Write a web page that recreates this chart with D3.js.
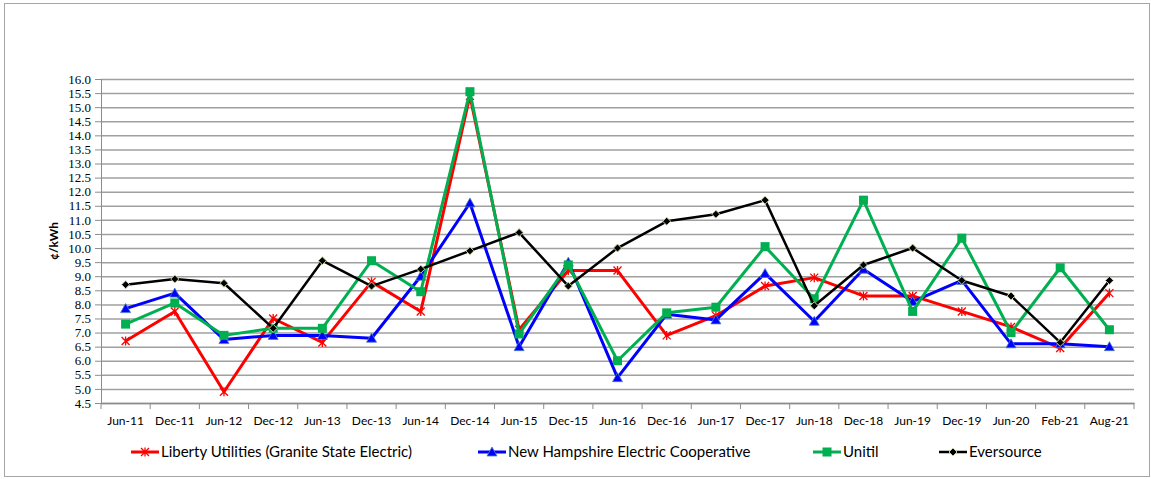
<!DOCTYPE html>
<html>
<head>
<meta charset="utf-8">
<script src="https://cdn.jsdelivr.net/npm/d3@7"></script>
<style>
  body { margin: 0; background: #fff; }
  svg { display: block; }
  .cat text { font-family: Lato, "Open Sans", sans-serif; font-size: 12px; fill: #000; }
  .val text { font-family: "Liberation Serif", "Times New Roman", serif; font-size: 13px; fill: #000; }
  .legend text { font-family: Lato, "Open Sans", sans-serif; font-size: 15px; fill: #000; }
</style>
</head>
<body>
<svg id="chart" width="1151" height="479"></svg>
<script>
// category labels along the bottom
const periods = ['Jun-11', 'Dec-11', 'Jun-12', 'Dec-12', 'Jun-13', 'Dec-13', 'Jun-14', 'Dec-14',
  'Jun-15', 'Dec-15', 'Jun-16', 'Dec-16', 'Jun-17', 'Dec-17', 'Jun-18', 'Dec-18', 'Jun-19',
  'Dec-19', 'Jun-20', 'Feb-21', 'Aug-21']

// cents per kWh
const liberty = [6.7, 7.75, 4.9, 7.5, 6.65, 8.8, 7.75, 15.4, 7.1, 9.2, 9.2, 6.9, 7.6, 8.65,
  8.95, 8.3, 8.3, 7.75, 7.2, 6.45, 8.4]
const nhec = [7.85, 8.4, 6.75, 6.9, 6.9, 6.8, 9.0, 11.6, 6.5, 9.5, 5.4, 7.65, 7.45, 9.1,
  7.4, 9.25, 8.1, 8.85, 6.6, 6.6, 6.5]
const unitil = [7.3, 8.05, 6.9, 7.15, 7.15, 9.55, 8.45, 15.55, 6.95, 9.4, 6.0, 7.7, 7.9, 10.05,
  8.2, 11.7, 7.75, 10.35, 7.0, 9.3, 7.1]
const eversource = [8.7, 8.9, 8.75, 7.15, 9.55, 8.65, 9.25, 9.9, 10.55, 8.65, 10.0, 10.95, 11.2, 11.7,
  7.95, 9.4, 10.0, 8.85, 8.3, 6.65, 8.85]

const yTicks = d3.range(4.5, 16.01, 0.5)

const series = [
  { name: 'Liberty Utilities (Granite State Electric)', values: liberty, color: '#ff0000', marker: 'star', width: 3 },
  { name: 'New Hampshire Electric Cooperative', values: nhec, color: '#0000ff', marker: 'triangle', width: 3 },
  { name: 'Unitil', values: unitil, color: '#00b050', marker: 'square', width: 3 },
  { name: 'Eversource', values: eversource, color: '#000000', marker: 'diamond', width: 2.5 }
]

const margin = { left: 101, right: 1134, top: 79, bottom: 403 }

const svg = d3.select('#chart')

// outer frame
svg.append('rect')
  .attr('x', 4.5).attr('y', 3.5)
  .attr('width', 1145).attr('height', 473)
  .attr('fill', 'none').attr('stroke', '#a6a6a6').attr('stroke-width', 1)

const x = d3.scaleBand().domain(periods).range([margin.left, margin.right]).padding(0)
const y = d3.scaleLinear().domain([4.5, 16]).range([margin.bottom, margin.top])
const cx = d => x(d) + x.bandwidth() / 2

// gridlines
svg.append('g')
  .attr('transform', `translate(${margin.left},0)`)
  .call(d3.axisLeft(y).tickValues(yTicks).tickSize(-(margin.right - margin.left)).tickFormat(''))
  .call(g => g.select('.domain').remove())
  .call(g => g.selectAll('line').attr('stroke', '#a0a0a0').attr('stroke-width', 1.5))

// value axis
svg.append('g')
  .attr('class', 'val')
  .attr('transform', `translate(${margin.left},0)`)
  .call(d3.axisLeft(y).tickValues(yTicks).tickFormat(d3.format('.1f')).tickSize(6).tickPadding(4))
  .call(g => g.select('.domain').attr('stroke', '#8c8c8c'))
  .call(g => g.selectAll('line').attr('stroke', '#8c8c8c'))

// category axis: labels centred, tick marks at the band edges
const catAxis = svg.append('g')
  .attr('class', 'cat')
  .attr('transform', `translate(0,${margin.bottom})`)
  .call(d3.axisBottom(x).tickSize(0).tickPadding(13))
catAxis.select('.domain').attr('stroke', '#8c8c8c').attr('stroke-width', 1.5)
catAxis.selectAll('.edge')
  .data(periods.map(p => x(p)).concat([margin.right]))
  .join('line')
  .attr('class', 'edge')
  .attr('x1', d => d).attr('x2', d => d)
  .attr('y1', 0).attr('y2', 6)
  .attr('stroke', '#8c8c8c')

svg.append('text')
  .attr('transform', `translate(58,241) rotate(-90)`)
  .attr('text-anchor', 'middle')
  .style('font-family', 'Lato, "Open Sans", sans-serif')
  .style('font-size', '12px')
  .style('font-weight', 'bold')
  .text('¢/kWh')

function drawMarker (g, type, color) {
  if (type === 'star') {
    g.append('path')
      .attr('d', 'M-4,-4L4,4M-4,4L4,-4M0,-4.5V4.5')
      .attr('stroke', color).attr('stroke-width', 1.3).attr('fill', 'none')
  } else if (type === 'triangle') {
    g.append('path')
      .attr('d', 'M0,-5L5,4H-5Z')
      .attr('fill', color).attr('stroke', '#4a7ebb').attr('stroke-width', 0.8)
  } else if (type === 'square') {
    g.append('rect')
      .attr('x', -4.5).attr('y', -4.5).attr('width', 9).attr('height', 9)
      .attr('fill', color)
  } else {
    g.append('path')
      .attr('d', 'M0,-4L4,0L0,4L-4,0Z')
      .attr('fill', color).attr('stroke', '#c3d69b').attr('stroke-width', 1)
  }
}

const line = d3.line().x((d, i) => cx(periods[i])).y(d => y(d))

series.forEach(s => {
  const g = svg.append('g')
  g.append('path')
    .attr('d', line(s.values))
    .attr('fill', 'none')
    .attr('stroke', s.color)
    .attr('stroke-width', s.width)
    .attr('stroke-linejoin', 'round')
  s.values.forEach((v, i) => {
    const m = g.append('g').attr('transform', `translate(${cx(periods[i])},${y(v)})`)
    drawMarker(m, s.marker, s.color)
  })
})

// legend
const legendX = [131, 478, 813, 939]
const legend = svg.append('g').attr('class', 'legend')
series.forEach((s, i) => {
  const g = legend.append('g').attr('transform', `translate(${legendX[i]},452)`)
  g.append('line')
    .attr('x1', 0).attr('x2', 28)
    .attr('stroke', s.color).attr('stroke-width', s.width)
  drawMarker(g.append('g').attr('transform', 'translate(14,0)'), s.marker, s.color)
  g.append('text')
    .attr('x', 30).attr('dy', '0.35em')
    .text(s.name)
})
</script>
</body>
</html>
